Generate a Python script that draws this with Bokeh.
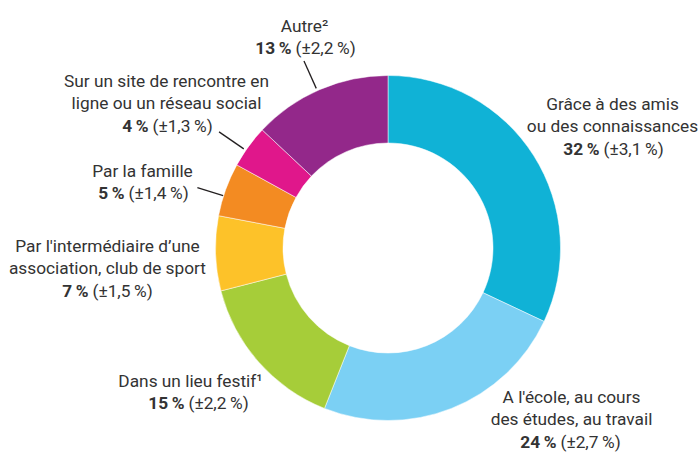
import math
from bokeh.plotting import figure
from bokeh.models import Range1d, ColumnDataSource
from bokeh.core.properties import value
from bokeh.embed import file_html
from bokeh.resources import INLINE

# ---- data ----
categories = [
    "Grâce à des amis ou des connaissances",
    "A l'école, au cours des études, au travail",
    "Dans un lieu festif",
    "Par l'intermédiaire d'une association, club de sport",
    "Par la famille",
    "Sur un site de rencontre en ligne ou un réseau social",
    "Autre",
]
values = [32, 24, 15, 7, 5, 4, 13]
errors = ["3,1", "2,7", "2,2", "1,5", "1,4", "1,3", "2,2"]
colors = ["#10b2d6", "#7bd0f4", "#a6cd39", "#fdc229", "#f38b22", "#e0178b", "#93288a"]
label_lines = [
    ["Grâce à des amis", "ou des connaissances"],
    ["A l'école, au cours", "des études, au travail"],
    ["Dans un lieu festif¹"],
    ["Par l'intermédiaire d\u2019une", "association, club de sport"],
    ["Par la famille"],
    ["Sur un site de rencontre en", "ligne ou un réseau social"],
    ["Autre²"],
]

# ---- layout ----
W, H = 700, 452
cx, cy = 387.5, 204.5
r_out, r_in = 172.5, 105
FONT = "Roboto"
FS = "17.3px"
TXT = "#333333"
DY = 7
# label anchor: (center x, first baseline y, split x for percent line)
label_pos = [
    (612, 342, 599),
    (571, 49, 556),
    (190, 65, 184),
    (107, 200, 88),
    (142, 275, 124),
    (166, 365, 148),
    (304, 420, 291),
]
LS = 22.5
# leader lines: (index, r_start, r_end, angle offset deg)
leaders = [(6, 175, 205, 0.8), (5, 175, 205, 1.5), (4, 173, 200, 2.2)]

p = figure(width=W, height=H, x_range=Range1d(0, W), y_range=Range1d(0, H),
           output_backend="svg", toolbar_location=None, min_border=0)
p.axis.visible = False
p.grid.visible = False
p.outline_line_color = None
p.background_fill_color = "white"

total = sum(values)
starts, ends, mids = [], [], []
cum = 0
for v in values:
    a0 = math.pi / 2 - 2 * math.pi * cum / total
    cum += v
    a1 = math.pi / 2 - 2 * math.pi * cum / total
    starts.append(a0)
    ends.append(a1)
    mids.append((a0 + a1) / 2)

src = ColumnDataSource(dict(start=starts, end=ends, color=colors))
p.annular_wedge(x=cx, y=cy, inner_radius=r_in, outer_radius=r_out,
                start_angle="start", end_angle="end", direction="clock",
                fill_color="color", line_color="white", line_width=0.5, source=src)

for i, r0, r1, off in leaders:
    a = mids[i] + math.radians(off)
    p.line([cx + r0 * math.cos(a), cx + r1 * math.cos(a)],
           [cy + r0 * math.sin(a), cy + r1 * math.sin(a)],
           line_color="#231f20", line_width=1.3)

for i in range(len(values)):
    x, y0, xs = label_pos[i]
    y0 += DY
    lines = label_lines[i]
    p.text(x=[x] * len(lines), y=[y0 - k * LS for k in range(len(lines))], text=lines,
           text_font=value(FONT), text_font_size=FS, text_color=TXT,
           text_align="center", text_baseline="alphabetic")
    yb = y0 - len(lines) * LS
    p.text(x=[xs], y=[yb], text=[f"{values[i]}\u2009%"],
           text_font=value(FONT), text_font_size=FS, text_font_style="bold",
           text_color=TXT, text_align="right", text_baseline="alphabetic")
    p.text(x=[xs + 4], y=[yb], text=[f"(±{errors[i]}\u2009%)"],
           text_font=value(FONT), text_font_size=FS, text_color=TXT,
           text_align="left", text_baseline="alphabetic")

open("out.html", "w").write(file_html(p, INLINE))
